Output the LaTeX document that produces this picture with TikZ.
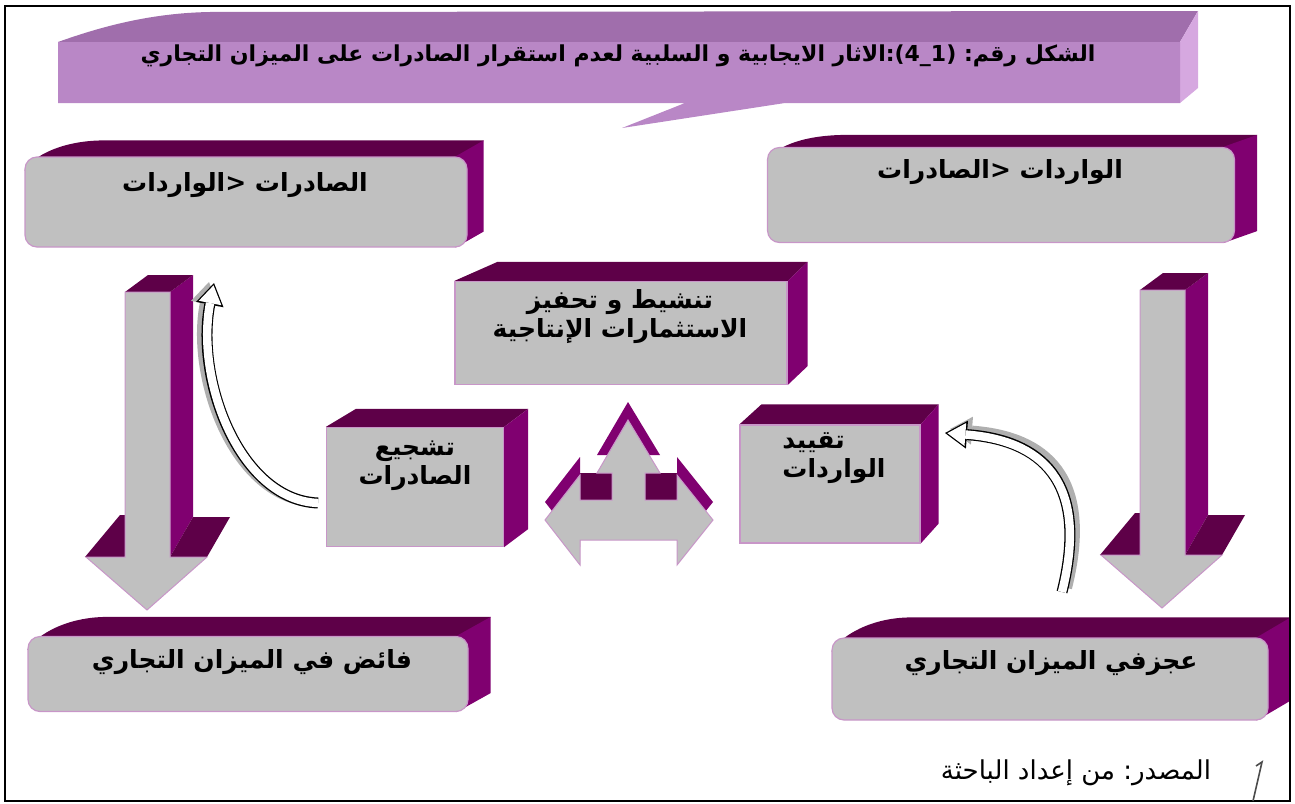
\documentclass[tikz,border=0pt]{standalone}
\usepackage{fontspec}
\usepackage{xcolor}
\usetikzlibrary{arrows.meta,positioning,calc,backgrounds}
\newfontfamily\arabicfont[Script=Arabic]{DejaVu Sans}
\TeXXeTstate=1

\definecolor{facegray}{RGB}{192,192,192}
\definecolor{edgepink}{RGB}{200,150,200}
\definecolor{plumdark}{RGB}{94,0,72}
\definecolor{plumside}{RGB}{128,0,112}
\definecolor{bannerfront}{RGB}{185,135,198}
\definecolor{bannertop}{RGB}{160,110,172}
\definecolor{bannerside}{RGB}{214,168,224}
\definecolor{shadowgray}{RGB}{175,175,175}

% top and right faces of a box with rounded front
\newcommand{\roundfaces}[3]{%
  \fill[topface] ($(#1.north west)+(0,14)$) .. controls ($(#1.north west)+(10,-2)$) and ($(#1.north west)+(40,#3)$) .. ($(#1.north west)+(80,#3)$) -- ($(#1.north east)+(#2,#3)$) -- ($(#1.north east)+(0,14)$) -- cycle;
  \fill[sideface] ($(#1.north east)+(-12,0)$) -- ($(#1.north east)+(#2,#3)$) -- ($(#1.south east)+(#2,#3)$) -- ($(#1.south east)+(-12,0)$) -- cycle;
}
% top and right faces of a plain block
\newcommand{\flatfaces}[4]{%
  \fill[topface] (#1.north west) -- ($(#1.north west)+(#4,#3)$) -- ($(#1.north east)+(#2,#3)$) -- (#1.north east) -- cycle;
  \fill[sideface] (#1.north east) -- ($(#1.north east)+(#2,#3)$) -- ($(#1.south east)+(#2,#3)$) -- (#1.south east) -- cycle;
}

\begin{document}
\begin{tikzpicture}[
    x=0.5pt, y=-0.5pt,
    roundbox/.style={rectangle, rounded corners=6pt, fill=facegray, draw=edgepink, line width=0.6pt, inner sep=0pt},
    flatbox/.style={rectangle, fill=facegray, draw=edgepink, line width=0.6pt, inner sep=0pt},
    boxtext/.style={font=\arabicfont\bfseries\fontsize{12.5}{14.5}\selectfont, align=center, inner sep=0pt},
    titletext/.style={font=\arabicfont\bfseries\fontsize{11}{13}\selectfont, inner sep=0pt},
    topface/.style={fill=plumdark},
    sideface/.style={fill=plumside},
    blockfront/.style={fill=facegray, draw=edgepink, line width=0.5pt},
    curvshade/.style={draw=shadowgray, line width=5pt, -{Triangle[length=11pt,width=14pt,line width=0pt]}},
    curvline/.style={draw=black, line width=5.5pt, -{Triangle[length=11pt,width=14pt,line width=0pt]}},
    curvfill/.style={draw=white, line width=4.2pt, shorten >=1.2pt, -{Triangle[length=9pt,width=11.5pt,line width=0pt]}}
]
    \useasboundingbox (0,0) rectangle (1295,803);
    \draw[line width=1pt] (5,6) rectangle (1290,801);

    % title banner
    \fill[bannertop] (58,42) .. controls (100,27) and (150,13) .. (210,12) -- (1198,11) -- (1180,42) -- cycle;
    \fill[bannerside] (1180,42) -- (1198,11) -- (1198,88) -- (1180,103) -- cycle;
    \fill[bannerfront] (58,42) -- (1180,42) -- (1180,103) -- (785,103) -- (622,128) -- (685,103) -- (58,103) -- cycle;
    \node[titletext] (title) at (618,56) {\beginR الشكل رقم\hbox{:} \beginL(1\_4)\endL\hbox{:}الاثار الايجابية و السلبية لعدم استقرار الصادرات على الميزان التجاري\endR};

    % boxes
    \node[roundbox, minimum width=221pt, minimum height=45pt] (expmore) at (246,202) {};
    \node[boxtext] (expmoretext) at (245,185) {\beginR الصادرات \hbox{<}الواردات\endR};
    \node[roundbox, minimum width=233.5pt, minimum height=47.5pt] (impmore) at (1001,195) {};
    \node[boxtext] (impmoretext) at (1000,172) {\beginR الواردات \hbox{<}الصادرات\endR};
    \node[flatbox, minimum width=166pt, minimum height=51.5pt] (invest) at (621,333) {};
    \node[boxtext] (investtext) at (620,317) {\beginR تنشيط و تحفيز\endR\\\beginR الاستثمارات الإنتاجية\endR};
    \node[flatbox, minimum width=88.5pt, minimum height=59.5pt] (promexp) at (415,487) {};
    \node[boxtext] (promexptext) at (415,466) {تشجيع\\الصادرات};
    \node[flatbox, minimum width=90pt, minimum height=59pt] (limitimp) at (830,484) {};
    \node[boxtext, align=left, anchor=west] (limitimptext) at (782,458) {تقييد\\الواردات};
    \node[roundbox, minimum width=220pt, minimum height=37.5pt] (surplus) at (248,674) {};
    \node[boxtext] (surplustext) at (252,662) {\beginR فائض في الميزان التجاري\endR};
    \node[roundbox, minimum width=218pt, minimum height=41pt] (deficit) at (1050,679) {};
    \node[boxtext] (deficittext) at (1051,663) {\beginR عجزفي الميزان التجاري\endR};

    \begin{scope}[on background layer]
        \roundfaces{expmore}{16}{-16}
        \roundfaces{impmore}{22}{-12}
        \roundfaces{surplus}{22}{-19}
        \roundfaces{deficit}{22}{-20}
        \flatfaces{invest}{20}{-19}{43}
        \flatfaces{promexp}{24}{-18}{30}
        \flatfaces{limitimp}{18}{-20}{22}
    \end{scope}

    % big down arrows
    \foreach \sx/\sy in {0/0,1015/-2}{
        \begin{scope}[shift={(\sx,\sy)}]
            \fill[sideface] (170,292) -- (193,275) -- (193,517) -- (170,557) -- cycle;
            \fill[topface] (125,292) -- (148,275) -- (193,275) -- (170,292) -- cycle;
            \fill[topface] (85,557) -- (120,515) -- (160,515) -- (125,557) -- cycle;
            \fill[topface] (170,557) -- (193,517) -- (230,517) -- (207,557) -- cycle;
            \draw[blockfront] (125,292) -- (170,292) -- (170,557) -- (207,557) -- (147,610) -- (86,557) -- (125,557) -- cycle;
        \end{scope}
    }

    % three way arrow
    \fill[sideface, shift={(0,-18)}] (628,420) -- (660,473) -- (645,473) -- (645,500) -- (677,500) -- (677,475) -- (713,520) -- (677,565) -- (677,540) -- (580,540) -- (580,565) -- (545,520) -- (580,475) -- (580,500) -- (612,500) -- (612,473) -- (597,473) -- cycle;
    \fill[topface] (580,473) rectangle (612,500);
    \fill[topface] (645,473) rectangle (677,500);
    \draw[blockfront] (628,420) -- (660,473) -- (645,473) -- (645,500) -- (677,500) -- (677,475) -- (713,520) -- (677,565) -- (677,540) -- (580,540) -- (580,565) -- (545,520) -- (580,475) -- (580,500) -- (612,500) -- (612,473) -- (597,473) -- cycle;

    % curved arrows
    \coordinate (lcs) at (318,503);
    \coordinate (lce) at (214,283);
    \coordinate (rcs) at (1062,592);
    \coordinate (rce) at (945,433);
    \draw[curvshade] ([shift={(-5,-1)}]lcs) .. controls (235,499) and (190,379) .. ([shift={(-5,-1)}]lce);
    \draw[curvline] (lcs) .. controls (240,500) and (195,380) .. (lce);
    \draw[curvfill] (lcs) .. controls (240,500) and (195,380) .. (lce);
    \draw[curvshade] ([shift={(5,-4)}]rcs) .. controls (1095,476) and (1045,436) .. ([shift={(5,-4)}]rce);
    \draw[curvline] (rcs) .. controls (1090,480) and (1040,440) .. (rce);
    \draw[curvfill] (rcs) .. controls (1090,480) and (1040,440) .. (rce);

    % source
    \node[font=\arabicfont\fontsize{13}{15}\selectfont, inner sep=0pt] (source) at (1076,773) {\beginR المصدر\hbox{:} من إعداد الباحثة\endR};
    \draw[line width=0.8pt, black!70] (1256,766) -- (1262,762) -- (1253,801);
\end{tikzpicture}
\end{document}
